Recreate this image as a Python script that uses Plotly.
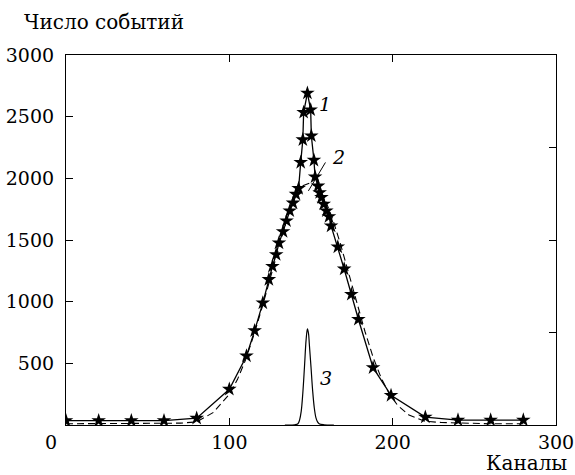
import plotly.graph_objects as go

# Curve 1: experimental spectrum (solid line with stars)
ch1 = [0, 20, 40, 60, 80, 100, 110.5, 115.5, 120.5, 124.2, 126.4, 128.7, 130.4, 132.9,
       135, 137, 139, 140.8, 142.4, 143.7, 145, 145.5, 147.8, 149.8, 150.2, 151.8,
       152.5, 154.3, 155.3, 156.4, 157.8, 159.4, 161, 162.3, 166.4, 170.3, 174.7,
       179, 188, 199, 220, 240, 260, 280]
cnt1 = [35, 35, 35, 35, 55, 290, 560, 765, 990, 1180, 1287, 1382, 1476, 1568,
        1655, 1736, 1800, 1871, 1918, 2129, 2313, 2535, 2691, 2556, 2345, 2147,
        2012, 1938, 1885, 1845, 1791, 1736, 1690, 1614, 1444, 1265, 1060,
        857, 465, 240, 64, 40, 40, 40]

# Curve 2: broad fit (dashed)
ch2 = [0, 20, 40, 60, 70, 80, 90, 100, 105, 110, 115, 120, 125, 130, 135, 140, 145,
       149, 153, 158, 163, 168, 173, 178, 183, 188, 193, 198, 203, 210, 220, 230,
       240, 260, 280]
cnt2 = [10, 10, 10, 10, 15, 25, 100, 250, 370, 530, 730, 950, 1190, 1440, 1660,
        1840, 1940, 1960, 1940, 1850, 1680, 1470, 1230, 990, 760, 550, 380, 250,
        160, 80, 30, 20, 15, 10, 10]

# Curve 3: narrow peak (solid)
ch3 = [134, 140, 142, 143, 144, 145, 146, 147, 147.8, 148.5, 149, 150, 151, 152,
       153, 154, 155, 158, 164]
cnt3 = [0, 2, 10, 40, 110, 260, 470, 690, 780, 740, 650, 470, 280, 140, 60, 25,
        10, 2, 0]

x_ticks = [100, 200, 300]
y_ticks = [500, 1000, 1500, 2000, 2500, 3000]
right_ticks = [750, 1500, 2250]

FONT = "DejaVu Serif"
FS = 19
fig = go.Figure()
fig.add_trace(go.Scatter(x=ch2, y=cnt2, mode="lines",
                         line=dict(color="black", width=1.1, dash="7px,4px"),
                         showlegend=False))
fig.add_trace(go.Scatter(x=ch3, y=cnt3, mode="lines",
                         line=dict(color="black", width=1.2, shape="spline"),
                         showlegend=False))
fig.add_trace(go.Scatter(x=ch1, y=cnt1, mode="lines+markers",
                         line=dict(color="black", width=1.3),
                         marker=dict(symbol="star", size=11, color="black"),
                         showlegend=False))
fig.add_trace(go.Scatter(x=[None], y=[None], yaxis="y2", showlegend=False))

fig.update_layout(
    width=575, height=475,
    margin=dict(l=66, r=19, t=55, b=50),
    paper_bgcolor="white", plot_bgcolor="white",
    font=dict(family=FONT, size=FS, color="black"),
    xaxis=dict(range=[0, 300], tickvals=x_ticks, ticktext=[str(v) for v in x_ticks],
               ticks="inside", ticklen=7, tickcolor="black", mirror="ticks",
               showline=True, linecolor="black", linewidth=1.2, showgrid=False,
               zeroline=False, ticklabelstandoff=0, automargin=False,
               ticklabeloverflow="allow",
               tickfont=dict(family=FONT, size=FS)),
    yaxis=dict(range=[0, 3000], tickvals=y_ticks, ticktext=[str(v) for v in y_ticks],
               ticks="inside", ticklen=7, tickcolor="black", mirror=True,
               showline=True, linecolor="black", linewidth=1.2, showgrid=False,
               zeroline=False, ticklabelstandoff=7, automargin=False,
               ticklabeloverflow="allow",
               tickfont=dict(family=FONT, size=FS)),
    yaxis2=dict(range=[0, 3000], overlaying="y", side="right", tickvals=right_ticks,
                ticks="inside", ticklen=7, tickcolor="black", showticklabels=False,
                showline=False, showgrid=False, zeroline=False, automargin=False),
)

fig.add_annotation(x=158.6, y=2602, text="<i>1</i>", showarrow=False,
                   font=dict(family=FONT, size=FS))
fig.add_annotation(x=166.6, y=2172, text="<i>2</i>", showarrow=False,
                   font=dict(family=FONT, size=FS))
fig.add_annotation(x=159.4, y=384, text="<i>3</i>", showarrow=False,
                   font=dict(family=FONT, size=FS))
fig.add_annotation(x=148.4, y=1898, ax=159.4, ay=2141, axref="x", ayref="y",
                   text="", showarrow=True, arrowhead=0, arrowwidth=1,
                   arrowcolor="black")
# origin label "0" sits left of the corner in the reference
fig.add_annotation(xref="paper", yref="paper", x=(51 - 66) / 490, y=(425 - 442) / 370,
                   xanchor="center", yanchor="middle", text="0",
                   showarrow=False, font=dict(family=FONT, size=FS))
fig.add_annotation(xref="paper", yref="paper", x=(22 - 66) / 490, y=(425 - 22) / 370,
                   xanchor="left", yanchor="middle", text="Число событий",
                   showarrow=False, font=dict(family=FONT, size=20))
fig.add_annotation(xref="paper", yref="paper", x=(569 - 66) / 490, y=(425 - 463) / 370,
                   xanchor="right", yanchor="middle", text="Каналы",
                   showarrow=False, font=dict(family=FONT, size=20))

fig.write_html("out.html")
